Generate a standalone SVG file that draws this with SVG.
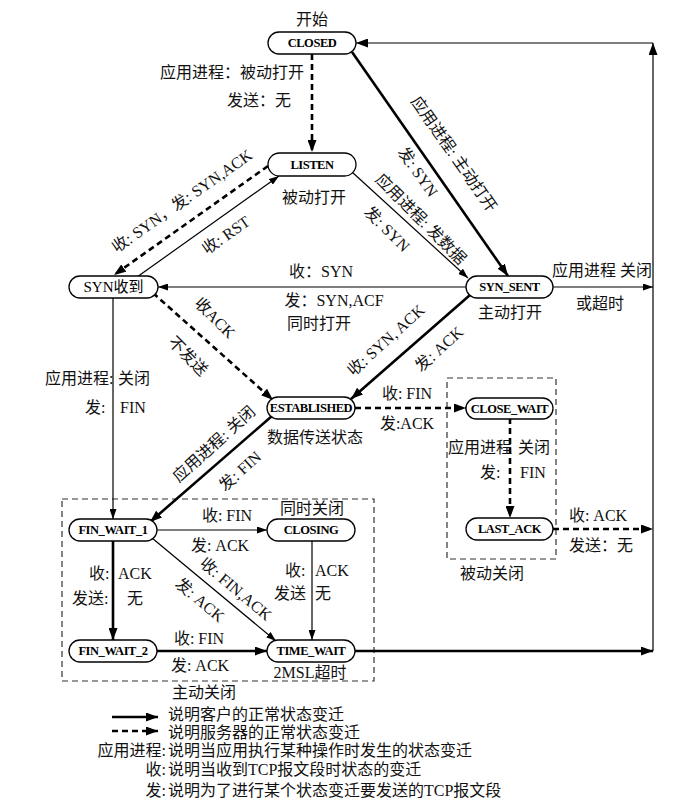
<svg xmlns="http://www.w3.org/2000/svg" width="698" height="808" viewBox="0 0 698 808">
<style>
.thick{stroke:#000;stroke-width:2.6;fill:none}
.thin{stroke:#000;stroke-width:1.2;fill:none}
.dash{stroke:#000;stroke-width:2.6;stroke-dasharray:6 4;fill:none}
.box{stroke:#333;stroke-width:1.2;stroke-dasharray:6 4;fill:none}
.node rect{fill:#fff;stroke:#000;stroke-width:1.3}
.node text{font-family:"Liberation Serif",serif;font-weight:bold;font-size:12.5px;letter-spacing:-0.45px;text-anchor:middle;dominant-baseline:central;fill:#000}
text.l{font-family:"Liberation Serif","Noto Sans CJK SC",serif;font-size:16px;fill:#111}
text.c{text-anchor:middle;dominant-baseline:central}
text.e{text-anchor:end;dominant-baseline:central}
text.s{dominant-baseline:central}
</style>
<defs>
<marker id="ab" markerUnits="userSpaceOnUse" markerWidth="13" markerHeight="9" refX="12" refY="4.5" orient="auto"><path d="M0,0 L12,4.5 L0,9 z" fill="#000"/></marker>
<marker id="as" markerUnits="userSpaceOnUse" markerWidth="11" markerHeight="7" refX="10" refY="3.5" orient="auto"><path d="M0,0 L10,3.5 L0,7 z" fill="#000"/></marker>
</defs>
<rect width="698" height="808" fill="#fff"/>

<rect class="box" x="447" y="378" width="109" height="181"/>
<rect class="box" x="62" y="499" width="312" height="182"/>

<g id="connectors">
<path class="dash" d="M312,54 L312,152" marker-end="url(#ab)"/>
<path class="thick" d="M352,52 L508,276" marker-end="url(#ab)"/>
<path class="thin" d="M352,172 L468,278" marker-end="url(#as)"/>
<path class="dash" d="M268,166 L114,275" marker-end="url(#ab)"/>
<path class="thin" d="M137,277 L279,176" marker-end="url(#as)"/>
<path class="thin" d="M466,287 L158,287" marker-end="url(#as)"/>
<path class="dash" d="M153,293 L273,400" marker-end="url(#ab)"/>
<path class="thick" d="M470,295 L351,399" marker-end="url(#ab)"/>
<path class="thin" d="M553,287 L653,287" marker-end="url(#as)"/>
<path class="dash" d="M355,408 L466,408" marker-end="url(#ab)"/>
<path class="dash" d="M510,418 L510,518" marker-end="url(#ab)"/>
<path class="dash" d="M553,529 L653,529" marker-end="url(#ab)"/>
<path class="thick" d="M272,416 L150,522" marker-end="url(#ab)"/>
<path class="thin" d="M113,298 L113,519" marker-end="url(#as)"/>
<path class="thin" d="M157,530 L267,530" marker-end="url(#as)"/>
<path class="thin" d="M152,538 L276,641" marker-end="url(#as)"/>
<path class="thick" d="M113,541 L113,640" marker-end="url(#ab)"/>
<path class="thin" d="M312,541 L312,640" marker-end="url(#as)"/>
<path class="thick" d="M157,651 L267,651" marker-end="url(#ab)"/>
<path class="thick" d="M355,651 L653,651" marker-end="url(#ab)"/>
<path class="thin" d="M653,651 L653,43" stroke-width="1.5" marker-end="url(#ab)"/>
<path class="thin" d="M653,43 L356,43" stroke-width="1.5" marker-end="url(#ab)"/>
</g>

<g id="closed" class="node"><rect x="268" y="32" width="88" height="22" rx="11"/><text x="312" y="43">CLOSED</text></g>
<g id="listen" class="node"><rect x="268" y="153" width="88" height="23" rx="11.5"/><text x="312" y="164.5">LISTEN</text></g>
<g id="syn_rcvd" class="node"><rect x="69" y="276" width="89" height="22" rx="11"/><text x="113.5" y="287" style="font-weight:normal;font-size:15px;font-family:'Liberation Serif','Noto Sans CJK SC',serif;letter-spacing:0">SYN收到</text></g>
<g id="syn_sent" class="node"><rect x="466" y="276" width="87" height="22" rx="11"/><text x="509.5" y="287">SYN_SENT</text></g>
<g id="established" class="node"><rect x="267" y="397" width="88" height="22" rx="11"/><text x="311" y="408">ESTABLISHED</text></g>
<g id="close_wait" class="node"><rect x="466" y="398" width="87" height="21" rx="10.5"/><text x="509.5" y="408.5">CLOSE_WAIT</text></g>
<g id="last_ack" class="node"><rect x="466" y="518" width="87" height="22" rx="11"/><text x="509.5" y="529">LAST_ACK</text></g>
<g id="fin_wait_1" class="node"><rect x="69" y="519" width="88" height="22" rx="11"/><text x="113" y="530">FIN_WAIT_1</text></g>
<g id="closing" class="node"><rect x="267" y="519" width="88" height="22" rx="11"/><text x="311" y="530">CLOSING</text></g>
<g id="fin_wait_2" class="node"><rect x="69" y="640" width="88" height="22" rx="11"/><text x="113" y="651">FIN_WAIT_2</text></g>
<g id="time_wait" class="node"><rect x="267" y="640" width="88" height="22" rx="11"/><text x="311" y="651">TIME_WAIT</text></g>

<g id="labels">
<text class="l c" x="312" y="19">开始</text>
<text class="l e" x="304" y="72">应用进程：被动打开</text>
<text class="l e" x="291" y="100">发送：无</text>
<text class="l c" x="314" y="197">被动打开</text>
<text class="l c" x="182" y="201" transform="rotate(-35 182 201)">收: SYN，发: SYN,ACK</text>
<text class="l c" x="226" y="235" transform="rotate(-35 226 235)">收:  RST</text>
<text class="l c" x="321" y="271">收：SYN</text>
<text class="l c" x="334" y="300">发：SYN,ACF</text>
<text class="l c" x="319" y="323">同时打开</text>
<text class="l c" x="454" y="154" transform="rotate(55 454 154)">应用进程:  主动打开</text>
<text class="l c" x="418" y="172" transform="rotate(55 418 172)">发:  SYN</text>
<text class="l c" x="421" y="219" transform="rotate(45 421 219)">应用进程:  发数据</text>
<text class="l c" x="387" y="229" transform="rotate(45 387 229)">发:  SYN</text>
<text class="l c" x="602" y="270">应用进程 关闭</text>
<text class="l c" x="600" y="303">或超时</text>
<text class="l c" x="510" y="312">主动打开</text>
<text class="l c" x="215" y="318" transform="rotate(45 215 318)">收ACK</text>
<text class="l c" x="188" y="356" transform="rotate(45 188 356)">不发送</text>
<text class="l c" x="386" y="340" transform="rotate(-42 386 340)">收: SYN, ACK</text>
<text class="l c" x="439" y="349" transform="rotate(-42 439 349)">发: ACK</text>
<text class="l s" x="45" y="378">应用进程:<tspan x="118">关闭</tspan></text>
<text class="l s" x="85" y="407">发:<tspan x="120">FIN</tspan></text>
<text class="l c" x="407" y="393">收: FIN</text>
<text class="l c" x="407" y="423">发:ACK</text>
<text class="l c" x="315" y="437">数据传送状态</text>
<text class="l c" x="214" y="444" transform="rotate(-42 214 444)">应用进程:  关闭</text>
<text class="l c" x="240" y="471" transform="rotate(-42 240 471)">发: FIN</text>
<text class="l s" x="448" y="447">应用进程<tspan x="518">关闭</tspan></text>
<text class="l s" x="480" y="472">发:<tspan x="520">FIN</tspan></text>
<text class="l c" x="598" y="515">收: ACK</text>
<text class="l c" x="601" y="545">发送：无</text>
<text class="l c" x="492" y="573">被动关闭</text>
<text class="l c" x="312" y="508">同时关闭</text>
<text class="l c" x="227" y="515">收: FIN</text>
<text class="l c" x="220" y="545">发: ACK</text>
<text class="l s" x="89" y="573">收:<tspan x="118">ACK</tspan></text>
<text class="l s" x="72" y="598">发送:<tspan x="127">无</tspan></text>
<text class="l c" x="236" y="589" transform="rotate(40 236 589)">收: FIN,ACK</text>
<text class="l c" x="200" y="600" transform="rotate(40 200 600)">发: ACK</text>
<text class="l s" x="285" y="570">收:<tspan x="315">ACK</tspan></text>
<text class="l s" x="274" y="593">发送<tspan x="315">无</tspan></text>
<text class="l c" x="199" y="638">收: FIN</text>
<text class="l c" x="200" y="665">发: ACK</text>
<text class="l c" x="310" y="672">2MSL超时</text>
<text class="l c" x="204" y="692">主动关闭</text>
</g>

<g id="legend">
<path class="thick" d="M112,717 L158,717" marker-end="url(#ab)"/>
<path class="dash" d="M112,731 L158,731" marker-end="url(#ab)"/>
<text class="l s" x="168" y="714">说明客户的正常状态变迁</text>
<text class="l s" x="168" y="732">说明服务器的正常状态变迁</text>
<text class="l e" x="166" y="750">应用进程:</text>
<text class="l s" x="168" y="750">说明当应用执行某种操作时发生的状态变迁</text>
<text class="l e" x="166" y="769">收:</text>
<text class="l s" x="168" y="769">说明当收到TCP报文段时状态的变迁</text>
<text class="l e" x="166" y="790">发:</text>
<text class="l s" x="168" y="790">说明为了进行某个状态变迁要发送的TCP报文段</text>
</g>
</svg>
